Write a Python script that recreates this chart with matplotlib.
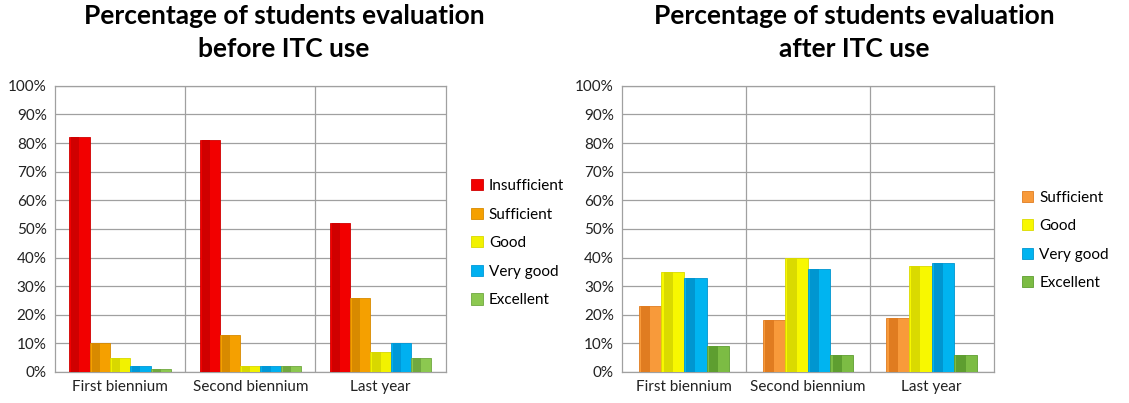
import numpy as np
import matplotlib.pyplot as plt

plt.rcParams['font.family'] = ['Lato', 'DejaVu Sans']

groups = ['First biennium', 'Second biennium', 'Last year']

before_labels = ['Insufficient', 'Sufficient', 'Good', 'Very good', 'Excellent']
before_insufficient = [82, 81, 52]
before_sufficient = [10, 13, 26]
before_good = [5, 2, 7]
before_very_good = [2, 2, 10]
before_excellent = [1, 2, 5]

after_labels = ['Sufficient', 'Good', 'Very good', 'Excellent']
after_sufficient = [23, 18, 19]
after_good = [35, 40, 37]
after_very_good = [33, 36, 38]
after_excellent = [9, 6, 6]

before_colors = ['#f20000', '#f5a000', '#f2f200', '#00b0f0', '#8cc850']
before_dark = ['#d00000', '#d88a00', '#d8d800', '#0098d8', '#70a840']
after_colors = ['#f89a3a', '#f8f800', '#00b4f0', '#7cbc44']
after_dark = ['#e07c20', '#dada00', '#0096d0', '#5e9e30']


def draw_panel(ax, series, labels, colors, darks, span, legend_pos):
    n = len(series)
    x = np.arange(len(groups))
    w = span / n
    for i, (vals, lab) in enumerate(zip(series, labels)):
        pos = x - span / 2 + w * (i + 0.5)
        ax.bar(pos, vals, width=w, color=colors[i], edgecolor=darks[i],
               linewidth=0.6, label=lab, zorder=3)
        # darker left side to mimic the bevelled look
        ax.bar(pos - w * 0.2, vals, width=w * 0.4, color=darks[i],
               linewidth=0, zorder=3.5)
    ax.set_xlim(-0.5, len(groups) - 0.5)
    ax.set_ylim(0, 100)
    ax.set_yticks(range(0, 101, 10))
    ax.set_yticklabels([f'{v}%' for v in range(0, 101, 10)])
    ax.set_xticks(x)
    ax.set_xticklabels(groups)
    ax.set_xticks(np.arange(0.5, len(groups) - 0.5, 1), minor=True)
    ax.grid(axis='y', color='#a0a0a0', linewidth=0.9, zorder=0)
    ax.grid(axis='x', which='minor', color='#a0a0a0', linewidth=0.9, zorder=0)
    ax.tick_params(length=0, labelsize=11, colors='#222222', pad=6)
    ax.tick_params(axis='x', which='minor', length=0)
    for s in ax.spines.values():
        s.set_color('#a0a0a0')
        s.set_linewidth(0.9)
    leg = ax.legend(loc='center left', bbox_to_anchor=legend_pos, frameon=False,
                    fontsize=11, handlelength=0.75, handleheight=0.75,
                    handletextpad=0.4, labelspacing=0.95, borderaxespad=0)
    return leg


fig = plt.figure(figsize=(11.29, 4.03), dpi=100)
ax1 = fig.add_axes([0.0487, 0.077, 0.346, 0.71])
ax2 = fig.add_axes([0.551, 0.077, 0.329, 0.71])

draw_panel(ax1,
           [before_insufficient, before_sufficient, before_good,
            before_very_good, before_excellent],
           before_labels, before_colors, before_dark, 0.78, (1.05, 0.45))
draw_panel(ax2,
           [after_sufficient, after_good, after_very_good, after_excellent],
           after_labels, after_colors, after_dark, 0.73, (1.06, 0.46))

fig.text(0.2516, 0.99, 'Percentage of students evaluation\nbefore ITC use',
         ha='center', va='top', fontsize=19, fontweight='bold', linespacing=1.45)
fig.text(0.7564, 0.99, 'Percentage of students evaluation\nafter ITC use',
         ha='center', va='top', fontsize=19, fontweight='bold', linespacing=1.45)

fig.savefig('out.png', dpi=100)
